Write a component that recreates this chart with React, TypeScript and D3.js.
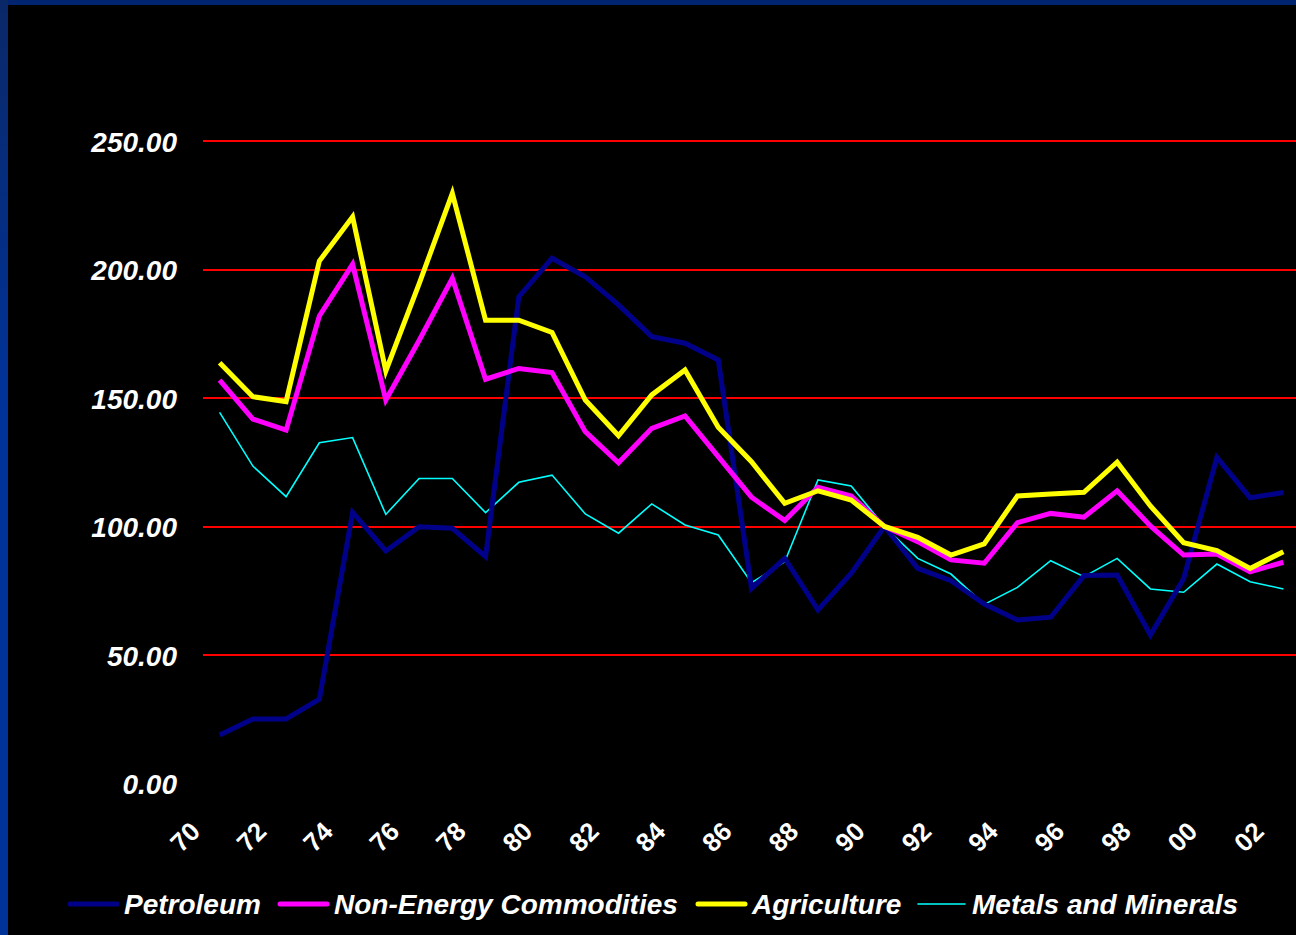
import React from "react";
import * as d3 from "d3";

// Commodity price indices, 1970–2002 (1990 = 100)
const years = [
  "70", "71", "72", "73", "74", "75", "76", "77", "78", "79",
  "80", "81", "82", "83", "84", "85", "86", "87", "88", "89",
  "90", "91", "92", "93", "94", "95", "96", "97", "98", "99",
  "00", "01", "02",
];

const petroleum = [
  18.9, 25.1, 25.1, 32.8, 105.5, 90.5, 99.9, 99.3, 88.3, 189.4,
  204.4, 197.2, 186.2, 173.9, 171.3, 164.8, 75.9, 87.6, 67.5, 81.8,
  100.0, 83.7, 78.9, 69.8, 63.6, 64.7, 80.9, 81.1, 57.8, 79.8,
  126.9, 111.2, 113.2,
];

const nonEnergy = [
  157.0, 141.8, 137.5, 181.9, 202.0, 149.2, 172.4, 196.6, 157.3, 161.5,
  159.9, 136.9, 124.8, 138.2, 143.0, 127.2, 111.4, 102.3, 115.3, 111.9,
  100.0, 94.1, 87.0, 85.7, 101.5, 105.1, 103.6, 113.9, 100.2, 88.9,
  89.3, 82.4, 86.1,
];

const agriculture = [
  163.7, 150.5, 148.6, 203.3, 220.5, 160.5, 194.4, 229.6, 180.3, 180.3,
  175.5, 149.2, 135.3, 151.2, 160.9, 138.6, 125.2, 109.0, 113.9, 110.3,
  100.0, 95.8, 88.9, 93.2, 111.9, 112.6, 113.3, 125.0, 108.0, 93.7,
  90.6, 83.7, 90.2,
];

const metals = [
  144.4, 123.5, 111.6, 132.6, 134.6, 104.7, 118.7, 118.7, 105.4, 117.2,
  120.0, 104.9, 97.4, 108.8, 100.6, 96.7, 78.1, 86.3, 118.1, 115.8,
  100.0, 87.6, 81.5, 69.7, 76.3, 86.7, 80.5, 87.6, 75.7, 74.4,
  85.4, 78.5, 75.7,
];

const yTicks = [0, 50, 100, 150, 200, 250];
const xTickLabels = years.filter((_, i) => i % 2 === 0);

const seriesNames = ["Petroleum", "Non-Energy Commodities", "Agriculture", "Metals and Minerals"];
const seriesValues = [petroleum, nonEnergy, agriculture, metals];
const seriesColors = ["#000088", "#ff00ff", "#ffff00", "#00ffff"];
const seriesWidths = [5, 5, 5, 1.6];
const legendX = [70, 280, 698, 918];

const W = 1296;
const H = 935;
const FONT = "'Liberation Sans', Arial, Helvetica, sans-serif";

export default function App() {
  const x = d3.scaleBand<string>().domain(years).range([203, 1300]);
  const y = d3.scaleLinear().domain([0, 250]).range([783.5, 141]);
  const cx = (yr: string) => (x(yr) as number) + x.bandwidth() / 2;

  const line = d3
    .line<number>()
    .x((_, i) => cx(years[i]))
    .y((v) => y(v));

  // draw order: thin metals first, then the thick lines
  const order = [3, 0, 1, 2];

  return (
    <div style={{ position: "fixed", left: 0, top: 0, width: W, height: H }}>
      <svg width={W} height={H} style={{ display: "block" }}>
        <defs>
          <linearGradient id="edge" x1="0" y1="0" x2="0" y2="1">
            <stop offset="0" stopColor="#0a2868" />
            <stop offset="0.45" stopColor="#00339a" />
            <stop offset="1" stopColor="#00339a" />
          </linearGradient>
        </defs>
        <rect x={0} y={0} width={W} height={H} fill="#000000" />
        <rect x={0} y={0} width={W} height={5} fill="#002470" />
        <rect x={0} y={0} width={8} height={H} fill="url(#edge)" />

        {/* horizontal gridlines */}
        {yTicks
          .filter((t) => t > 0)
          .map((t) => {
            const gy = Math.round(y(t));
            return (
              <line key={t} x1={203} x2={W} y1={gy} y2={gy} stroke="#ff0000" strokeWidth={2} />
            );
          })}

        {/* y-axis labels */}
        {yTicks.map((t) => (
          <text
            key={t}
            x={177}
            y={y(t) + 10.5}
            textAnchor="end"
            fill="#ffffff"
            fontFamily={FONT}
            fontSize={28}
            fontWeight="bold"
            fontStyle="italic"
          >
            {t.toFixed(2)}
          </text>
        ))}

        {/* x-axis labels */}
        {xTickLabels.map((lab) => {
          const tx = cx(lab) - 18;
          const ty = 833;
          return (
            <text
              key={lab}
              x={tx}
              y={ty}
              transform={`rotate(-45 ${tx} ${ty})`}
              textAnchor="end"
              fill="#ffffff"
              fontFamily={FONT}
              fontSize={26}
              fontWeight="bold"
            >
              {lab}
            </text>
          );
        })}

        {/* series */}
        {order.map((k) => (
          <path
            key={seriesNames[k]}
            d={line(seriesValues[k]) || ""}
            fill="none"
            stroke={seriesColors[k]}
            strokeWidth={seriesWidths[k]}
            strokeLinejoin="miter"
            strokeLinecap="butt"
          />
        ))}

        {/* legend */}
        {seriesNames.map((name, k) => (
          <g key={name}>
            <line
              x1={legendX[k]}
              x2={legendX[k] + 47}
              y1={904}
              y2={904}
              stroke={seriesColors[k]}
              strokeWidth={seriesWidths[k]}
              strokeLinecap="round"
            />
            <text
              x={legendX[k] + 54}
              y={913.5}
              fill="#ffffff"
              fontFamily={FONT}
              fontSize={28}
              fontWeight="bold"
              fontStyle="italic"
            >
              {name}
            </text>
          </g>
        ))}
      </svg>
    </div>
  );
}
